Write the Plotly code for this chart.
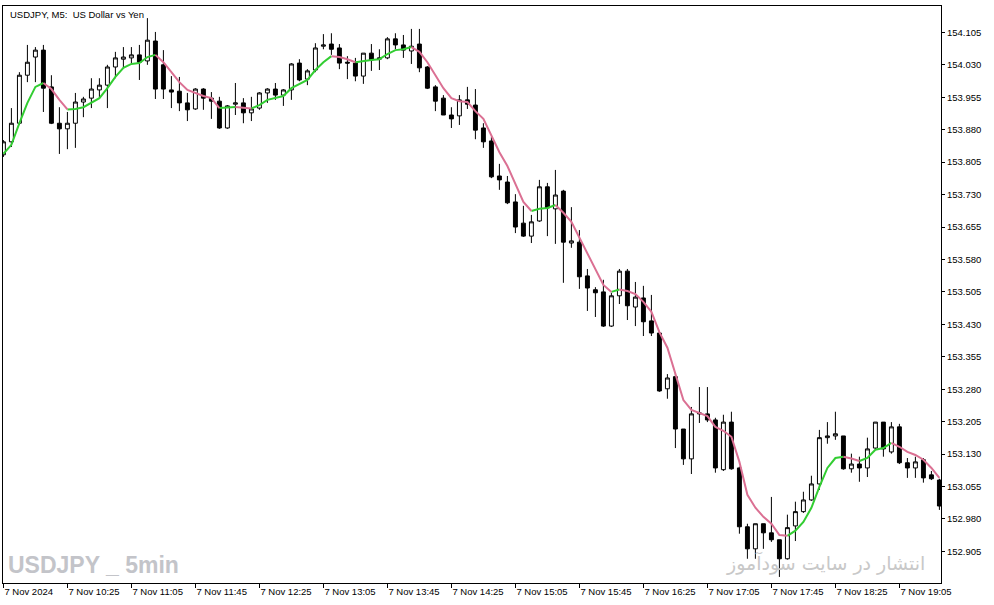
import plotly.graph_objects as go

opens = [153.822,153.852,153.895,154.006,154.048,154.064,153.979,153.895,153.882,153.895,
         153.944,153.953,153.972,153.983,154.025,154.043,154.046,154.053,154.039,154.085,
         154.030,153.972,153.969,153.942,153.928,153.974,153.953,153.946,153.884,153.939,
         153.942,153.919,153.930,153.965,153.974,153.960,153.972,154.034,153.997,154.018,
         154.073,154.078,154.069,154.036,154.034,154.004,154.057,154.043,154.046,154.090,
         154.076,154.062,154.078,154.025,153.979,153.953,153.914,153.912,153.949,153.937,
         153.884,153.854,153.773,153.759,153.713,153.664,153.634,153.669,153.748,153.697,
         153.738,153.618,153.620,153.542,153.510,153.505,153.426,153.496,153.553,153.470,
         153.491,153.438,153.410,153.281,153.309,153.188,153.119,153.223,153.223,153.209,
         153.094,153.204,153.098,152.962,152.911,152.969,152.948,152.932,152.888,152.964,
         152.997,153.024,153.061,153.168,153.172,153.172,153.096,153.107,153.098,153.144,
         153.204,153.135,153.193,153.110,153.098,153.117,153.082,153.070]
highs = [153.856,153.930,154.013,154.076,154.071,154.076,154.006,153.932,153.921,153.965,
         153.956,153.999,153.999,154.030,154.060,154.071,154.071,154.076,154.138,154.106,
         154.064,154.004,154.002,153.965,153.976,153.976,153.967,153.956,153.937,153.988,
         153.953,153.956,153.967,153.976,153.988,153.974,154.034,154.043,154.020,154.080,
         154.101,154.103,154.078,154.050,154.046,154.057,154.078,154.066,154.094,154.103,
         154.099,154.113,154.113,154.027,153.983,153.960,153.932,153.960,153.979,153.974,
         153.895,153.863,153.801,153.773,153.731,153.704,153.683,153.764,153.757,153.787,
         153.741,153.701,153.648,153.558,153.516,153.533,153.503,153.558,153.558,153.528,
         153.519,153.498,153.410,153.315,153.318,153.188,153.239,153.285,153.285,153.214,
         153.221,153.228,153.101,152.969,152.969,152.969,153.031,152.932,152.990,153.020,
         153.043,153.080,153.186,153.204,153.228,153.172,153.131,153.124,153.168,153.204,
         153.204,153.204,153.200,153.121,153.124,153.121,153.091,153.073]
lows = [153.817,153.840,153.891,153.990,153.990,153.921,153.893,153.824,153.835,153.838,
        153.909,153.930,153.951,153.930,153.999,154.023,154.034,153.995,154.030,153.951,
        153.951,153.930,153.923,153.900,153.926,153.926,153.905,153.882,153.882,153.914,
        153.895,153.900,153.926,153.942,153.949,153.935,153.949,153.992,153.983,154.013,
        154.066,154.053,154.020,153.997,153.992,153.986,154.016,154.018,154.043,154.066,
        154.046,154.032,154.013,153.974,153.923,153.914,153.884,153.891,153.928,153.858,
        153.838,153.768,153.741,153.708,153.641,153.632,153.618,153.667,153.634,153.616,
        153.526,153.607,153.512,153.461,153.447,153.424,153.424,153.477,153.440,153.426,
        153.403,153.403,153.274,153.258,153.144,153.105,153.084,153.202,153.204,153.087,
        153.091,153.094,152.946,152.888,152.888,152.911,152.927,152.846,152.886,152.929,
        152.994,153.022,153.047,153.154,153.163,153.094,153.087,153.066,153.077,153.140,
        153.124,153.131,153.107,153.075,153.075,153.064,153.070,153.001]
closes = [153.852,153.895,154.006,154.036,154.064,153.976,153.895,153.882,153.895,153.944,
          153.951,153.974,153.983,154.025,154.046,154.048,154.053,154.036,154.087,153.974,
          153.974,153.967,153.942,153.926,153.974,153.953,153.946,153.884,153.935,153.942,
          153.919,153.928,153.965,153.974,153.960,153.972,154.032,153.995,154.016,154.069,
          154.076,154.066,154.034,154.034,154.004,154.057,154.041,154.046,154.090,154.076,
          154.064,154.073,154.023,153.976,153.946,153.914,153.905,153.949,153.939,153.879,
          153.852,153.771,153.764,153.711,153.655,153.634,153.667,153.748,153.699,153.729,
          153.620,153.623,153.540,153.514,153.503,153.426,153.496,153.553,153.473,153.493,
          153.436,153.410,153.276,153.306,153.188,153.119,153.223,153.225,153.209,153.098,
          153.204,153.096,152.962,152.911,152.969,152.948,152.932,152.888,152.960,152.997,
          153.024,153.061,153.168,153.172,153.177,153.096,153.107,153.098,153.142,153.204,
          153.142,153.193,153.110,153.098,153.112,153.075,153.073,153.010]
ma_values = [153.824,153.845,153.895,153.942,153.979,153.988,153.974,153.949,153.927,153.928,
             153.932,153.942,153.953,153.976,154.002,154.023,154.032,154.034,154.048,154.053,
             154.036,154.013,153.990,153.972,153.965,153.958,153.953,153.9301,153.9313,153.9324,
             153.9301,153.9290,153.937,153.949,153.953,153.958,153.976,153.986,153.995,154.018,
             154.036,154.050,154.048,154.043,154.036,154.039,154.041,154.043,154.055,154.064,
             154.066,154.071,154.060,154.036,154.006,153.976,153.953,153.946,153.944,153.923,
             153.905,153.868,153.828,153.796,153.755,153.713,153.692,153.697,153.699,153.706,
             153.688,153.667,153.630,153.593,153.555,153.521,153.505,153.5107,153.5072,153.500,
             153.482,153.459,153.412,153.376,153.318,153.255,153.232,153.225,153.218,153.193,
             153.184,153.170,153.112,153.036,153.006,152.985,152.969,152.943,152.941,152.953,
             152.973,153.006,153.054,153.098,153.121,153.124,153.120,153.114,153.121,153.140,
             153.144,153.156,153.147,153.135,153.128,153.117,153.098,153.075]

tick_labels = ["7 Nov 2024", "7 Nov 10:25", "7 Nov 11:05", "7 Nov 11:45", "7 Nov 12:25",
               "7 Nov 13:05", "7 Nov 13:45", "7 Nov 14:25", "7 Nov 15:05", "7 Nov 15:45",
               "7 Nov 16:25", "7 Nov 17:05", "7 Nov 17:45", "7 Nov 18:25", "7 Nov 19:05"]
price_ticks = [152.905, 152.980, 153.055, 153.130, 153.205, 153.280, 153.355, 153.430,
               153.505, 153.580, 153.655, 153.730, 153.805, 153.880, 153.955, 154.030, 154.105]

n = len(closes)
xs = list(range(n))
tick_vals = [8 * i for i in range(len(tick_labels))]

fig = go.Figure()
fig.add_trace(go.Candlestick(
    x=xs, open=opens, high=highs, low=lows, close=closes,
    increasing=dict(line=dict(color="black", width=1), fillcolor="white"),
    decreasing=dict(line=dict(color="black", width=1), fillcolor="black"),
    whiskerwidth=0, hoverinfo="skip", showlegend=False,
))

GREEN = "#32CD32"
PINK = "#DB7093"
runs = {GREEN: ([], []), PINK: ([], [])}
i = 0
while i < n - 1:
    col = GREEN if ma_values[i + 1] > ma_values[i] else PINK
    j = i
    while j < n - 1 and (GREEN if ma_values[j + 1] > ma_values[j] else PINK) == col:
        j += 1
    rx, ry = runs[col]
    rx.extend(xs[i:j + 1] + [None])
    ry.extend(ma_values[i:j + 1] + [None])
    i = j
for col, (rx, ry) in runs.items():
    fig.add_trace(go.Scatter(x=rx, y=ry, mode="lines", line=dict(color=col, width=2),
                             hoverinfo="skip", showlegend=False, connectgaps=False))

font_main = "Liberation Sans, Arial, sans-serif"
fig.update_layout(
    width=994, height=605,
    margin=dict(l=3, r=53, t=6, b=22),
    paper_bgcolor="white", plot_bgcolor="white",
    showlegend=False,
    font=dict(family=font_main, size=9.5, color="black"),
    xaxis=dict(
        range=[-0.05, 117.2], rangeslider=dict(visible=False),
        tickmode="array", tickvals=tick_vals, ticktext=tick_labels,
        ticks="outside", ticklen=4, tickcolor="black", tickwidth=1,
        ticklabelposition="outside right",
        showline=True, mirror=True, linecolor="black", linewidth=1,
        showgrid=False, zeroline=False,
        tickfont=dict(family=font_main, size=9.5, color="black"),
    ),
    yaxis=dict(
        side="right", range=[152.832, 154.166],
        tickmode="array", tickvals=price_ticks, ticktext=[f"{v:.3f}" for v in price_ticks],
        ticks="outside", ticklen=3, tickcolor="black", tickwidth=1,
        showline=True, mirror=True, linecolor="black", linewidth=1,
        showgrid=False, zeroline=False,
        tickfont=dict(family=font_main, size=9.5, color="black"),
    ),
    annotations=[
        dict(text="USDJPY, M5:  US Dollar vs Yen", xref="paper", yref="paper",
             x=0.005, y=1, xanchor="left", yanchor="top", yshift=-1, showarrow=False,
             font=dict(family=font_main, size=9.5, color="black")),
        dict(text="<b>USDJPY _ 5min</b>", xref="paper", yref="paper",
             x=0.003, y=0.031, xanchor="left", yanchor="middle", showarrow=False,
             font=dict(family="Liberation Sans, Arial, sans-serif",
                       size=23, color="#C3C4C9")),
        dict(text="انتشار در سایت سودآموز", xref="paper", yref="paper",
             x=0.985, y=0.035, xanchor="right", yanchor="middle", showarrow=False,
             font=dict(family="DejaVu Sans, Noto Sans, sans-serif", size=19, color="#C8C8C8")),
    ],
)

fig.write_html("out.html", config={"displayModeBar": False},
               post_script="document.body.style.margin='0';document.body.style.padding='0';")
